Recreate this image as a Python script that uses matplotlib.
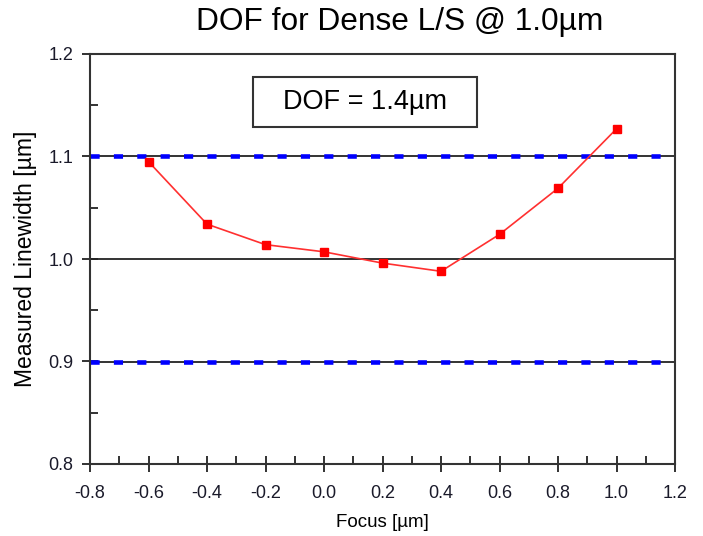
import matplotlib
matplotlib.use("Agg")
import matplotlib.pyplot as plt
from matplotlib.ticker import MultipleLocator, FormatStrFormatter
from matplotlib.patches import Rectangle

plt.rcParams['font.family'] = ['Liberation Sans', 'DejaVu Sans']

focus = [-0.6, -0.4, -0.2, 0.0, 0.2, 0.4, 0.6, 0.8, 1.0]
linewidth = [1.095, 1.034, 1.014, 1.007, 0.996, 0.988, 1.024, 1.069, 1.127]
spec_limits = [0.9, 1.1]
grid_levels = [0.9, 1.0, 1.1]
title = "DOF for Dense L/S @ 1.0µm"
dof_label = "DOF = 1.4µm"

fig = plt.figure(figsize=(7.03, 5.36), dpi=100)
ax = fig.add_axes([90/703, 1 - 464/536, (675-90)/703, (464-54)/536])

ax.set_xlim(-0.8, 1.2)
ax.set_ylim(0.8, 1.2)

for g in grid_levels:
    ax.axhline(g, color='#111111', lw=1.2, zorder=1)
for s in spec_limits:
    ax.axhline(s, color='#0000ff', lw=3.3, dashes=(2.0, 3.1), solid_capstyle='butt',
               dash_capstyle='butt', zorder=2)

ax.plot(focus, linewidth, color='#ff3030', lw=1.2, marker='s', markersize=6,
        markerfacecolor='#ff0000', markeredgecolor='#ff0000', zorder=3, clip_on=False)

ax.xaxis.set_major_locator(MultipleLocator(0.2))
ax.xaxis.set_minor_locator(MultipleLocator(0.1))
ax.yaxis.set_major_locator(MultipleLocator(0.1))
ax.yaxis.set_minor_locator(MultipleLocator(0.05))
ax.xaxis.set_major_formatter(FormatStrFormatter('%.1f'))
ax.yaxis.set_major_formatter(FormatStrFormatter('%.1f'))

ax.tick_params(which='major', direction='inout', length=12, width=1.3, color='#222222',
               labelsize=13, labelcolor='#1a1a2a', pad=6)
ax.tick_params(axis='x', which='major', pad=9)
ax.tick_params(which='minor', direction='in', length=6, width=1.3, color='#222222')
for sp in ax.spines.values():
    sp.set_linewidth(1.5)
    sp.set_color('#333333')

ax.set_xlabel("Focus [µm]", fontsize=13.5, labelpad=9)
ax.set_ylabel("Measured Linewidth [µm]", fontsize=16.5, labelpad=8)

fig.text(400/703, 1 - 22/536, title, fontsize=22.8, ha='center', va='center')

ax.add_patch(Rectangle((0.279, 0.822), 0.383, 0.122, transform=ax.transAxes,
                       facecolor='white', edgecolor='#333333', lw=1.5, zorder=4))
ax.text(0.470, 0.883, dof_label, transform=ax.transAxes, fontsize=19.5,
        ha='center', va='center', zorder=5)

fig.savefig("out.png", dpi=100)
